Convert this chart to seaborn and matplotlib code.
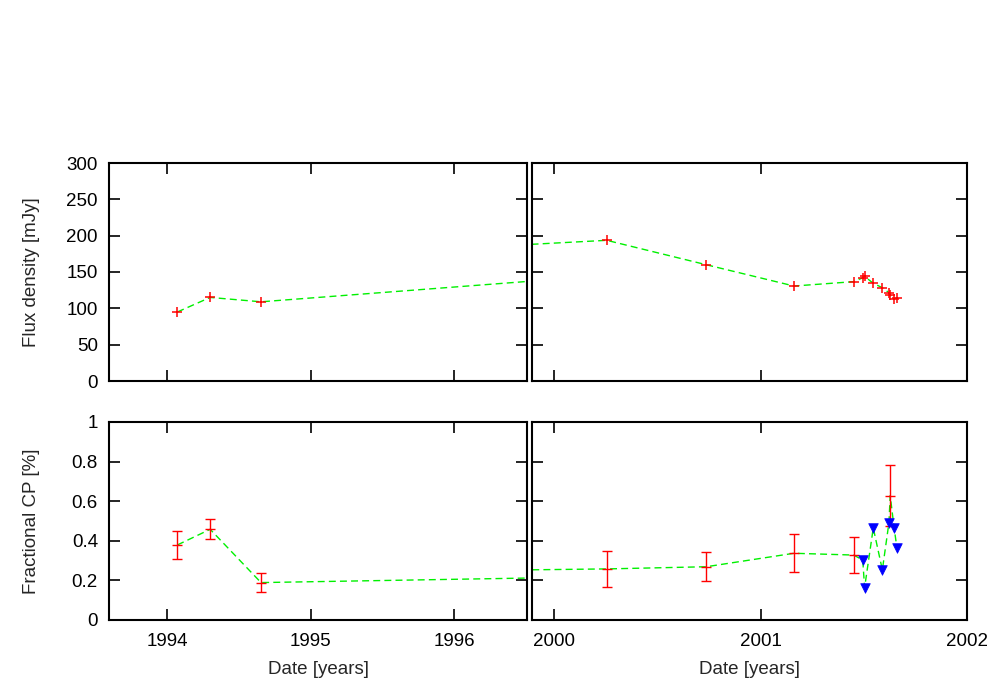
import matplotlib
matplotlib.use("Agg")
import matplotlib.pyplot as plt
import seaborn as sns
import pandas as pd
import numpy as np

# ---- data ----
dates = [1994.072, 1994.300, 1994.654, 2000.255, 2000.737, 2001.162, 2001.451,
         2001.495, 2001.504, 2001.546, 2001.590, 2001.622, 2001.628, 2001.647, 2001.661]
flux = [95, 115, 109, 193.6, 160, 130.7, 136.7,
        142, 144, 134.4, 128.4, 121.5, 118, 112.8, 114.6]
cp = [0.379, 0.458, 0.189, 0.258, 0.269, 0.337, 0.328,
      0.303, 0.163, 0.465, 0.253, 0.492, 0.628, 0.465, 0.362]
cp_err = [0.072, 0.050, 0.050, 0.092, 0.073, 0.095, 0.093,
          np.nan, np.nan, np.nan, np.nan, np.nan, 0.155, np.nan, np.nan]
cp_upper = [False, False, False, False, False, False, False,
            True, True, True, True, True, False, True, True]

left_xlim = (1993.596, 1996.505)
right_xlim = (1999.893, 2002.0)
left_xticks = [1994, 1995, 1996]
right_xticks = [2000, 2001, 2002]
flux_yticks = [0, 50, 100, 150, 200, 250, 300]
cp_yticks = [0, 0.2, 0.4, 0.6, 0.8, 1.0]
cp_yticklabels = ["0", "0.2", "0.4", "0.6", "0.8", "1"]

df = pd.DataFrame({"date": dates, "flux": flux, "cp": cp, "err": cp_err, "upper": cp_upper})
det = df[~df["upper"]]
lim = df[df["upper"]]

sns.set_theme(style="ticks")
plt.rcParams["font.family"] = ["Liberation Sans", "DejaVu Sans"]
plt.rcParams["xtick.direction"] = "in"
plt.rcParams["ytick.direction"] = "in"

fig = plt.figure(figsize=(10, 7), dpi=100)
W, H = 1000, 700
def box(x0, x1, y0, y1):
    return [x0 / W, (H - y1) / H, (x1 - x0) / W, (y1 - y0) / H]

ax_tl = fig.add_axes(box(109, 527, 163, 381))
ax_tr = fig.add_axes(box(532, 967, 163, 381))
ax_bl = fig.add_axes(box(109, 527, 422, 620))
ax_br = fig.add_axes(box(532, 967, 422, 620))

green = "#00f000"
red = "#ff0000"
blue = "#0000ff"
FS = 13.5

for ax in (ax_tl, ax_tr):
    sns.lineplot(data=df, x="date", y="flux", ax=ax, color=green, lw=1.0,
                 linestyle=(0, (5, 3)), sort=False, estimator=None)
    ax.plot(df["date"], df["flux"], linestyle="none", marker="+", color=red,
            markersize=7, markeredgewidth=1.1, zorder=4)
    ax.set_ylim(0, 300)
    ax.set_yticks(flux_yticks)

for ax in (ax_bl, ax_br):
    sns.lineplot(data=df, x="date", y="cp", ax=ax, color=green, lw=1.0,
                 linestyle=(0, (5, 3)), sort=False, estimator=None)
    ax.errorbar(det["date"], det["cp"], yerr=det["err"], fmt="none", ecolor=red,
                elinewidth=1.0, capsize=3.3, capthick=1.0, zorder=4)
    ax.plot(det["date"], det["cp"], linestyle="none", marker="_", color=red,
            markersize=6.5, markeredgewidth=1.0, zorder=4)
    sns.scatterplot(data=lim, x="date", y="cp", ax=ax, marker="v", color=blue,
                    s=48, edgecolor=blue, linewidth=0.5, zorder=5)
    ax.set_ylim(0, 1)
    ax.set_yticks(cp_yticks)

for ax in (ax_tl, ax_bl):
    ax.set_xlim(*left_xlim)
    ax.set_xticks(left_xticks)
for ax in (ax_tr, ax_br):
    ax.set_xlim(*right_xlim)
    ax.set_xticks(right_xticks)

for ax in (ax_tl, ax_tr, ax_bl, ax_br):
    ax.tick_params(axis="both", which="both", direction="in", length=8, width=1.2,
                   top=True, right=True, labelsize=FS, colors="black")
    ax.tick_params(axis="y", pad=8)
    ax.tick_params(axis="x", pad=9)
    for sp in ax.spines.values():
        sp.set_visible(True)
        sp.set_linewidth(1.5)
        sp.set_color("black")
    ax.set_xlabel("")
    ax.set_ylabel("")

ax_tl.tick_params(labelbottom=False)
ax_tr.tick_params(labelbottom=False, labelleft=False)
ax_br.tick_params(labelleft=False)
ax_bl.set_yticklabels(cp_yticklabels)
ax_tl.set_yticklabels([str(v) for v in flux_yticks])

ax_tl.set_ylabel("Flux density [mJy]", fontsize=FS)
ax_bl.set_ylabel("Fractional CP [%]", fontsize=FS)
ax_tl.yaxis.set_label_coords((40 - 109) / 418, 0.5)
ax_bl.yaxis.set_label_coords((40 - 109) / 418, 0.5)
ax_bl.set_xlabel("Date [years]", fontsize=FS)
ax_br.set_xlabel("Date [years]", fontsize=FS)
ax_bl.xaxis.set_label_coords(0.5, (620 - 661) / 198)
ax_br.xaxis.set_label_coords(0.5, (620 - 661) / 198)

fig.savefig("out.png", dpi=100)
